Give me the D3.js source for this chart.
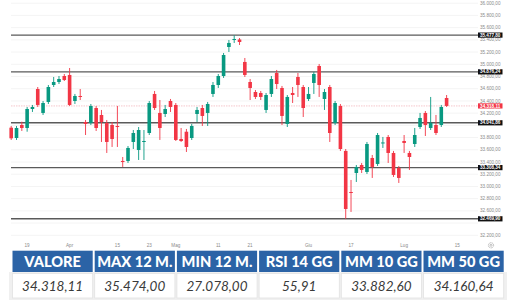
<!DOCTYPE html>
<html>
<head>
<meta charset="utf-8">
<script src="https://cdn.jsdelivr.net/npm/d3@7"></script>
<style>
html,body{margin:0;padding:0;background:#fff;}
svg{display:block;}
</style>
</head>
<body>
<svg id="chart" width="516" height="301"></svg>
<script>
// ---- DATA ----
const opens  = [33962,33793,34006,33957,34268,34595,34203,34383,34661,34710,34808,34825,34399,34481,34055,34039,34284,34170,34039,34006,33990,33417,33417,33728,33597,33728,33875,34514,34203,34186,34399,34334,33777,33896,33793,34186,34284,34203,34514,34661,34808,35283,35398,35406,35038,34710,34546,34530,34252,34514,34857,34612,34023,34530,34792,34628,34432,34694,34972,34432,34628,34039,34317,33581,32909,33220,33351,33237,33466,33368,33704,33810,33548,33302,33744,33548,33695,33973,34203,33957,34006,34006,34448];
const highs  = [33990,33990,34060,34301,34334,34628,34399,34661,34792,34808,34841,34939,34514,34595,34088,34350,34317,34252,34088,34055,34317,33482,33662,33924,33973,33924,34399,34563,34415,34334,34432,34366,33957,33941,34023,34301,34334,34383,34710,34841,35185,35398,35474,35430,35103,34759,34579,34563,34530,34808,34907,34645,34497,34628,34857,34661,34628,34874,35005,34595,34661,34399,34350,33613,33106,33351,33384,33728,33515,33875,33810,33842,33581,33335,33842,33581,33957,34203,34235,34465,34170,34334,34497];
const lows   = [33761,33761,33908,33896,34219,34301,34170,34350,34628,34677,34726,34317,34350,34415,33842,34006,33908,33728,33548,33646,33646,33319,33384,33613,33433,33433,33842,34252,33761,34137,34219,33744,33728,33564,33761,34055,33990,33990,34465,34612,34776,35201,35349,35316,34792,34415,34432,34415,34203,34465,34595,34006,33973,34366,34465,34137,34399,34514,34465,34252,33728,34006,33581,32469.9,32582,33073,33220,33204,33139,33335,33630,33384,33155,33057,33548,33270,33646,33941,33826,33924,33842,33973,34301];
const closes = [33788,33957,33957,34268,34301,34334,34366,34628,34710,34759,34743,34334,34481,34465,34023,34317,33957,34055,33728,33777,33973,33400,33630,33875,33924,33744,34366,34284,33957,34268,34301,33761,33744,33646,33990,34252,34154,34350,34661,34808,35152,35349,35414,35365,34825,34612,34465,34465,34497,34759,34677,34154,34465,34497,34661,34284,34514,34841,34661,34546,33875,34366,33613,32631,32893,33319,33270,33695,33319,33842,33720,33548,33188,33139,33712,33482,33842,34121,34006,34039,33875,34301,34318.11];

const xTickIndex  = [3, 11, 20, 26, 31, 39, 45, 56, 64, 74, 84];
const xTickLabels = ["19","Apr","15","23","Mag","11","21","Giu","17","Lug","15"];

const yTicks = [36000,35800,35600,35400,35200,35000,34800,34600,34400,34200,34000,33800,33600,33400,33200,33000,32800,32600,32400,32200];
const levels = [35477.80, 34876.24, 34041.86, 33308.34, 32469.90];
const lastPrice = 34318.11;

const tableHeaders = ["VALORE","MAX 12 M.","MIN 12 M.","RSI 14 GG","MM 10 GG","MM 50 GG"];
const tableValues  = ["34.318,11","35.474,00","27.078,00","55,91","33.882,60","34.160,64"];

// ---- RENDER ----
const svg = d3.select("#chart");
const UP = "#089981", DOWN = "#f23645";
const it = d3.formatLocale({decimal:",", thousands:".", grouping:[3], currency:["","€"]});
const fmt = it.format(",.2f");

const x = d3.scaleLinear().domain([0, 82]).range([11.2, 446.6]);
const y = d3.scaleLinear().domain([32200, 36000]).range([235.3, 3.2]);

const plotL = 11, plotR = 478;
const boxH = 5.2;

// faint grid
svg.append("g").selectAll("line").data(yTicks).join("line")
  .attr("x1", plotL).attr("x2", plotR)
  .attr("y1", d => y(d)).attr("y2", d => y(d))
  .attr("stroke", "#f4f4f4").attr("stroke-width", 1);

// level lines
svg.append("g").selectAll("line").data(levels).join("line")
  .attr("x1", plotL).attr("x2", plotR)
  .attr("y1", d => y(d)).attr("y2", d => y(d))
  .attr("stroke", "#5a5a5a").attr("stroke-width", 1.4);

// last price line
svg.append("line")
  .attr("x1", plotL).attr("x2", plotR)
  .attr("y1", y(lastPrice)).attr("y2", y(lastPrice))
  .attr("stroke", "#f5c6cb").attr("stroke-width", 1)
  .attr("stroke-dasharray", "1.5,1");

// candles
const idx = d3.range(closes.length);
const bodyW = 3.6;
const cg = svg.append("g");
cg.selectAll("line.wick").data(idx).join("line")
  .attr("class", "wick")
  .attr("x1", i => x(i)).attr("x2", i => x(i))
  .attr("y1", i => y(highs[i])).attr("y2", i => y(lows[i]))
  .attr("stroke", i => closes[i] >= opens[i] ? UP : DOWN)
  .attr("stroke-width", 0.9);
cg.selectAll("rect.body").data(idx).join("rect")
  .attr("class", "body")
  .attr("x", i => x(i) - bodyW / 2)
  .attr("width", bodyW)
  .attr("y", i => y(Math.max(opens[i], closes[i])))
  .attr("height", i => Math.max(1, Math.abs(y(opens[i]) - y(closes[i]))))
  .attr("fill", i => closes[i] >= opens[i] ? UP : DOWN);

// y tick labels (hidden when covered by a price box, as in the platform)
const boxVals = levels.concat([lastPrice]);
const visibleTicks = yTicks.filter(t => d3.min(boxVals, v => Math.abs(y(v) - y(t))) > 4.4);
svg.append("g").selectAll("text").data(visibleTicks).join("text")
  .attr("x", 480).attr("y", d => y(d))
  .attr("dy", "0.35em")
  .attr("font-family", "Liberation Sans, Arial, sans-serif")
  .attr("font-size", 4.6)
  .attr("fill", "#8a8a8a")
  .text(d => fmt(d));

// level boxes
const boxes = svg.append("g");
levels.forEach(v => {
  boxes.append("rect").attr("x", 478).attr("y", y(v) - boxH / 2).attr("width", 24.5).attr("height", boxH).attr("fill", "#111");
  boxes.append("text").attr("x", 490.2).attr("y", y(v)).attr("dy", "0.35em")
    .attr("text-anchor", "middle")
    .attr("font-family", "Liberation Sans, Arial, sans-serif").attr("font-size", 4.6).attr("font-weight", "bold")
    .attr("fill", "#fff").text(fmt(v));
});
boxes.append("rect").attr("x", 478).attr("y", y(lastPrice) - boxH / 2).attr("width", 24.5).attr("height", boxH).attr("fill", DOWN);
boxes.append("text").attr("x", 490.2).attr("y", y(lastPrice)).attr("dy", "0.35em")
  .attr("text-anchor", "middle")
  .attr("font-family", "Liberation Sans, Arial, sans-serif").attr("font-size", 4.6).attr("font-weight", "bold")
  .attr("fill", "#fff").text(fmt(lastPrice));

// x tick labels
svg.append("g").selectAll("text").data(xTickIndex).join("text")
  .attr("x", d => x(d)).attr("y", 245.5)
  .attr("dy", "0.35em").attr("text-anchor", "middle")
  .attr("font-family", "Liberation Sans, Arial, sans-serif")
  .attr("font-size", 4.6).attr("fill", "#8a8a8a")
  .text((d, i) => xTickLabels[i]);

// gear icon
const gear = svg.append("g").attr("transform", "translate(491,245.3)");
gear.append("circle").attr("r", 2.6).attr("fill", "none").attr("stroke", "#999").attr("stroke-width", 0.8).attr("stroke-dasharray", "1,0.6");
gear.append("circle").attr("r", 1).attr("fill", "none").attr("stroke", "#999").attr("stroke-width", 0.6);

// ---- TABLE ----
const tX0 = 12.5, colStep = 82.2, cellW = 80.2;
const col = d3.scaleLinear().domain([0, 1]).range([tX0, tX0 + colStep]);
svg.append("rect").attr("x", 9).attr("y", 272).attr("width", 498).attr("height", 28).attr("fill", "#f0f0f0");
const tg = svg.append("g");
tg.selectAll("rect.h").data(tableHeaders).join("rect")
  .attr("class", "h")
  .attr("x", (d, i) => col(i)).attr("y", 250.7)
  .attr("width", cellW).attr("height", 21.3)
  .attr("fill", "#2b63a6");
tg.selectAll("text.h").data(tableHeaders).join("text")
  .attr("class", "h")
  .attr("x", (d, i) => col(i) + cellW / 2).attr("y", 261.6)
  .attr("dy", "0.36em").attr("text-anchor", "middle")
  .attr("font-family", "Lato, 'Open Sans', sans-serif").attr("font-weight", 900)
  .attr("font-size", 14.6).attr("fill", "#fff")
  .text(d => d);
tg.selectAll("rect.v").data(tableValues).join("rect")
  .attr("class", "v")
  .attr("x", (d, i) => col(i)).attr("y", 273.5)
  .attr("width", cellW).attr("height", 24.5)
  .attr("fill", "#fff").attr("stroke", "#e2e2e2").attr("stroke-width", 0.8);
tg.selectAll("text.v").data(tableValues).join("text")
  .attr("class", "v")
  .attr("x", (d, i) => col(i) + cellW / 2).attr("y", 286)
  .attr("dy", "0.36em").attr("text-anchor", "middle")
  .attr("font-family", "Lato, 'Open Sans', sans-serif").attr("font-style", "italic").attr("font-weight", 400)
  .attr("font-size", 13.5).attr("fill", "#3a3a3a")
  .text(d => d);
</script>
</body>
</html>
